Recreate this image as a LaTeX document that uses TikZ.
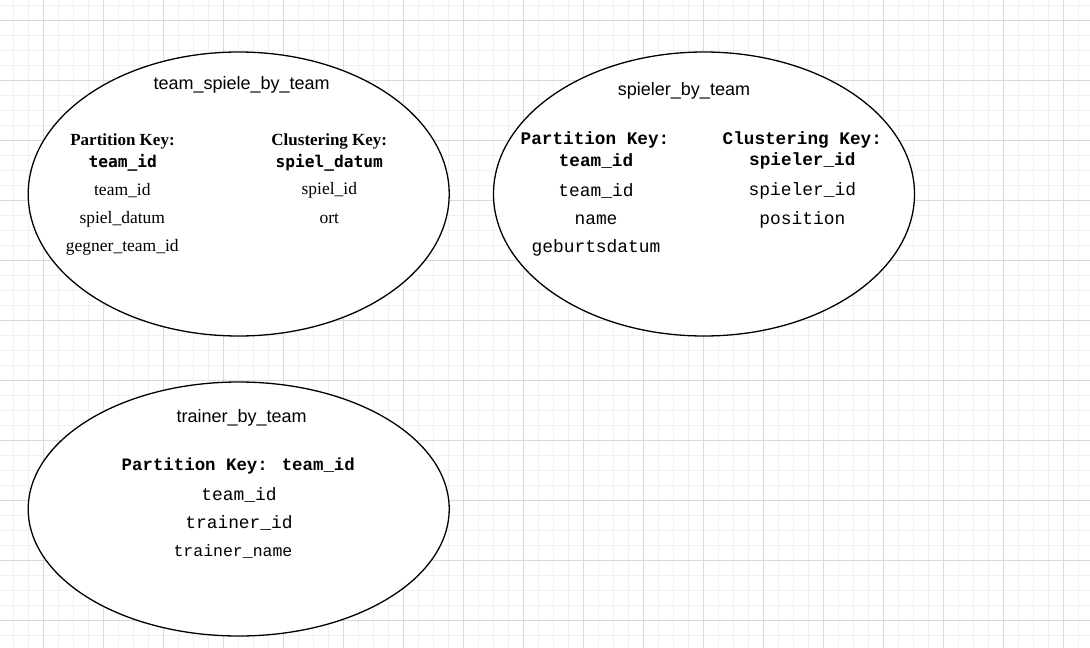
\documentclass[tikz,border=0pt]{standalone}
\usepackage{fontspec}
\setmainfont{Liberation Serif}
\newfontfamily\titlefont{Liberation Sans}
\newfontfamily\keymono{DejaVu Sans Mono}
\newfontfamily\courier{Liberation Mono}
\usepackage{tikz}
\usetikzlibrary{shapes.geometric}

\definecolor{gridmajor}{HTML}{DADADA}
\definecolor{gridminor}{HTML}{F0F0F0}

\tikzset{
    tablebox/.style = {ellipse, draw, line width=1.3pt, fill=white, inner sep=0pt, minimum width=421pt},
    tabletitle/.style = {font=\titlefont\fontsize{18}{21}\selectfont},
    serifkey/.style = {font=\bfseries\fontsize{17}{20}\selectfont},
    serifcol/.style = {font=\fontsize{17.5}{20}\selectfont},
    monokey/.style = {font=\keymono\bfseries\fontsize{16.2}{19}\selectfont},
    courkey/.style = {font=\courier\bfseries\fontsize{17.7}{20}\selectfont},
    courcol/.style = {font=\courier\fontsize{17.9}{20}\selectfont}
}

\begin{document}
\begin{tikzpicture}[x=1pt, y=-1pt]
        \useasboundingbox[fill=white] (0, 0) rectangle (1090, 648);
        % background grid
        \foreach \x in {13, 28, ..., 1090} \draw[gridminor, line width=1pt] (\x, 0) -- (\x, 648);
        \foreach \y in {5, 20, ..., 648} \draw[gridminor, line width=1pt] (0, \y) -- (1090, \y);
        \foreach \x in {43, 103, ..., 1090} \draw[gridmajor, line width=1pt] (\x, 0) -- (\x, 648);
        \foreach \y in {20, 80, ..., 648} \draw[gridmajor, line width=1pt] (0, \y) -- (1090, \y);

        % team_spiele_by_team
        \node[tablebox, minimum height=284pt] (spiele) at (238.7, 194) {};
        \node[tabletitle] (spiele title) at (241.7, 85) {team\_spiele\_by\_team};
        \node[serifkey] (spiele pk) at (122.5, 141.5) {Partition Key:};
        \node[monokey] (spiele pk col) at (122.7, 163) {team\_id};
        \node[serifcol] (spiele c1) at (122.3, 190.5) {team\_id};
        \node[serifcol] (spiele c2) at (122.3, 219) {spiel\_datum};
        \node[serifcol] (spiele c3) at (122.3, 247) {gegner\_team\_id};
        \node[serifkey] (spiele ck) at (329.3, 141.5) {Clustering Key:};
        \node[monokey] (spiele ck col) at (329.3, 163) {spiel\_datum};
        \node[serifcol] (spiele c4) at (329.3, 190.5) {spiel\_id};
        \node[serifcol] (spiele c5) at (329.3, 219) {ort};

        % spieler_by_team
        \node[tablebox, minimum height=284pt] (spieler) at (704, 194) {};
        \node[tabletitle] (spieler title) at (684, 91) {spieler\_by\_team};
        \node[courkey] (spieler pk) at (595, 140) {Partition Key:};
        \node[courkey] (spieler pk col) at (596, 161) {team\_id};
        \node[courcol] (spieler c1) at (596, 191) {team\_id};
        \node[courcol] (spieler c2) at (596, 220) {name};
        \node[courcol] (spieler c3) at (596, 248) {geburtsdatum};
        \node[courkey] (spieler ck) at (802.3, 140) {Clustering Key:};
        \node[courkey] (spieler ck col) at (802.3, 161) {spieler\_id};
        \node[courcol] (spieler c4) at (802.3, 191) {spieler\_id};
        \node[courcol] (spieler c5) at (802.3, 220) {position};

        % trainer_by_team
        \node[tablebox, minimum height=254pt] (trainer) at (238.7, 509) {};
        \node[tabletitle] (trainer title) at (241.7, 417.7) {trainer\_by\_team};
        \node[courkey, font=\courier\bfseries\fontsize{17.4}{20}\selectfont] (trainer pk) at (238.3, 465.7) {Partition Key: team\_id};
        \node[courcol] (trainer c1) at (239, 495) {team\_id};
        \node[courcol] (trainer c2) at (239, 522.7) {trainer\_id};
        \node[courcol, font=\courier\fontsize{16.5}{19}\selectfont] (trainer c3) at (233, 551.7) {trainer\_name};
    \end{tikzpicture}
\end{document}
